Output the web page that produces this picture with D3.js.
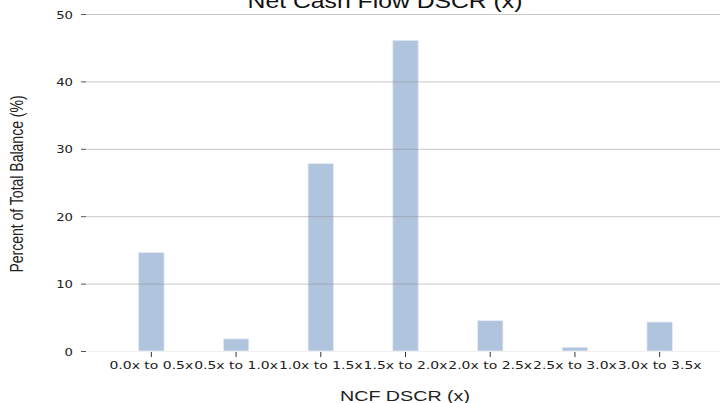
<!DOCTYPE html>
<html><head><meta charset="utf-8">
<script src="https://cdn.jsdelivr.net/npm/d3@7"></script>
<style>body{margin:0;background:#fff;}svg{display:block;}</style>
</head><body>
<svg id="c" width="720" height="403"></svg>
<script>
const categories = ["0.0x to 0.5x","0.5x to 1.0x","1.0x to 1.5x","1.5x to 2.0x","2.0x to 2.5x","2.5x to 3.0x","3.0x to 3.5x"];
const values = [14.6, 1.8, 27.8, 46.1, 4.5, 0.55, 4.3];
const yTicks = [0, 10, 20, 30, 40, 50];
const title = "Net Cash Flow DSCR (x)";
const xTitle = "NCF DSCR (x)";
const yTitle = "Percent of Total Balance (%)";

const svg = d3.select("#c");
const x = d3.scaleBand().domain(categories).range([109, 702]).paddingInner(0.7).paddingOuter(0.35);
const y = d3.scaleLinear().domain([0, 50]).range([351, 14]);
const sx = 1.27;

// bars
svg.append("g").selectAll("rect").data(values).join("rect")
  .attr("x", (d,i) => x(categories[i]))
  .attr("width", x.bandwidth())
  .attr("y", d => y(d))
  .attr("height", d => y(0) - y(d))
  .attr("fill", "#b0c4de")
  .attr("stroke", "#e4ebf5").attr("stroke-width", 0.8);

// grid
const gy = svg.append("g").attr("transform", "translate(86,0)")
  .call(d3.axisLeft(y).tickValues(yTicks).tickSize(0).tickFormat(""));
gy.select(".domain").remove();
gy.selectAll(".tick line").attr("x2", 634)
  .attr("stroke", d => d === 0 ? "#f0f0f0" : "#888").attr("stroke-opacity", d => d === 0 ? 1 : 0.45);

// y ticks
const ya = svg.append("g").attr("transform", "translate(86,0)")
  .call(d3.axisLeft(y).tickValues(yTicks).tickSize(5).tickPadding(0).tickFormat(d3.format("d")));
ya.select(".domain").remove();
ya.selectAll(".tick line").attr("stroke", "#555");
ya.selectAll(".tick text").text(null);
ya.selectAll(".tick").append("text")
  .attr("transform", "translate(-13,4) scale(1.2,1)")
  .attr("text-anchor", "end")
  .attr("fill", "#222")
  .style("font-family", "DejaVu Sans").style("font-size", "11px")
  .text(d => d3.format("d")(d));

// x ticks
const xa = svg.append("g").attr("transform", "translate(0,352)")
  .call(d3.axisBottom(x).tickSize(5).tickFormat(""));
xa.select(".domain").remove();
xa.selectAll(".tick line").attr("stroke", "#333");
xa.selectAll(".tick").append("text")
  .attr("transform", `translate(0,17) scale(${sx},1)`)
  .attr("text-anchor", "middle").attr("fill", "#222")
  .style("font-family", "DejaVu Sans").style("font-size", "11px")
  .text(d => d);

// titles
svg.append("text").attr("transform", `translate(385,8) scale(${sx},1)`)
  .attr("text-anchor", "middle").attr("fill", "#111")
  .style("font-family", "Liberation Sans").style("font-size", "19.5px").text(title);
svg.append("text").attr("transform", `translate(405,401) scale(${sx},1)`)
  .attr("text-anchor", "middle").attr("fill", "#222")
  .style("font-family", "Liberation Sans").style("font-size", "15.5px").text(xTitle);
svg.append("text").attr("transform", `translate(23,184) rotate(-90) scale(1,${sx})`)
  .attr("text-anchor", "middle").attr("fill", "#222")
  .style("font-family", "Liberation Sans").style("font-size", "14px").text(yTitle);
</script>
</body></html>
